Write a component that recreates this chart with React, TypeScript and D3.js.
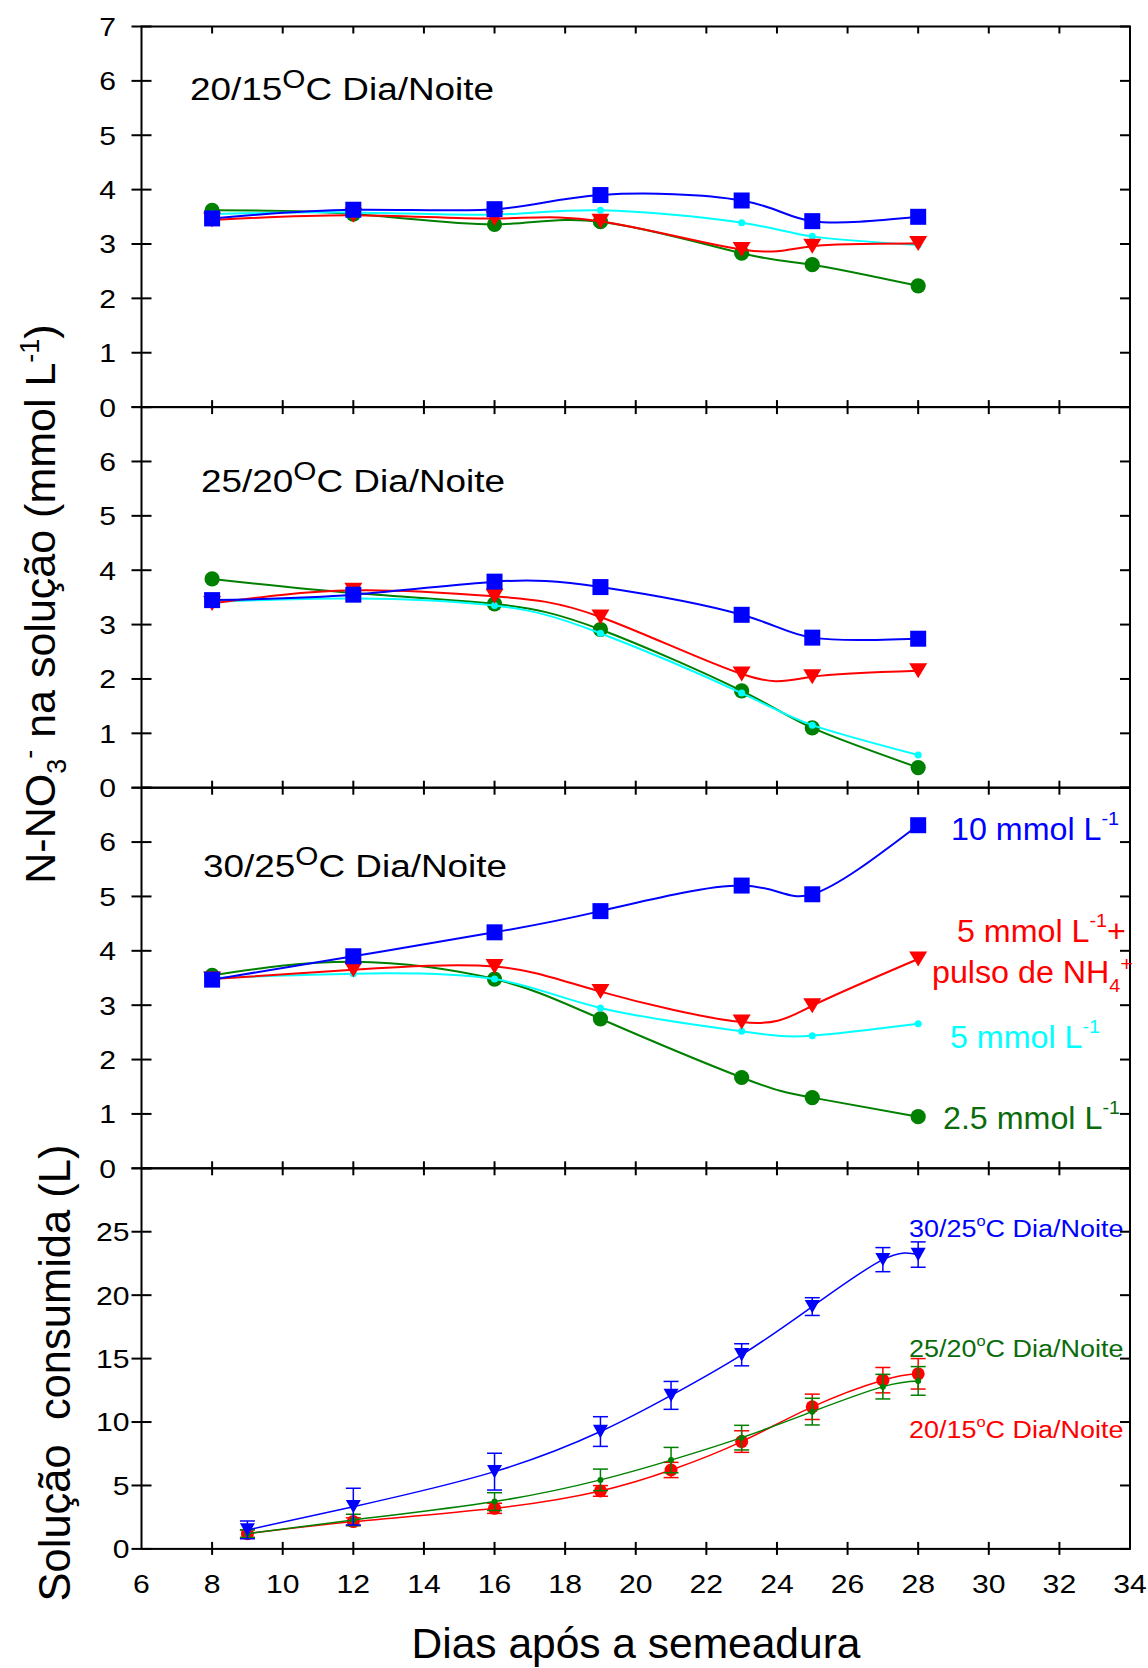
import React, { useEffect, useRef } from "react";
import * as d3 from "d3";

// x values (dias após a semeadura)
const days = [8, 12, 16, 19, 23, 25, 28];
const daysSol = [9, 12, 16, 19, 21, 23, 25, 27, 28];

// N-NO3 (mmol L-1), 20/15 C
const t20_10mmol = [3.47, 3.63, 3.64, 3.9, 3.8, 3.42, 3.5];
const t20_5mmol = [3.55, 3.58, 3.54, 3.62, 3.39, 3.14, 2.98];
const t20_5pulso = [3.44, 3.53, 3.47, 3.42, 2.9, 2.96, 3.01];
const t20_25mmol = [3.62, 3.55, 3.36, 3.41, 2.83, 2.62, 2.23];

// 25/20 C
const t25_10mmol = [3.45, 3.55, 3.79, 3.69, 3.18, 2.76, 2.74];
const t25_5mmol = [3.42, 3.48, 3.35, 2.84, 1.74, 1.15, 0.6];
const t25_5pulso = [3.39, 3.63, 3.52, 3.14, 2.09, 2.04, 2.15];
const t25_25mmol = [3.84, 3.58, 3.38, 2.91, 1.78, 1.1, 0.37];

// 30/25 C
const t30_10mmol = [3.47, 3.9, 4.34, 4.73, 5.2, 5.04, 6.31];
const t30_5mmol = [3.5, 3.58, 3.48, 2.95, 2.52, 2.44, 2.66];
const t30_5pulso = [3.48, 3.65, 3.71, 3.25, 2.69, 2.99, 3.85];
const t30_25mmol = [3.55, 3.8, 3.48, 2.75, 1.67, 1.3, 0.95];

// solução consumida (L) with error
const sol30 = [1.5, 3.33, 6.09, 9.25, 12.1, 15.3, 19.1, 22.8, 23.2];
const sol30Err = [0.7, 1.45, 1.45, 1.17, 1.1, 0.87, 0.7, 0.95, 1.0];
const sol20 = [1.2, 2.15, 3.2, 4.57, 6.22, 8.46, 11.2, 13.3, 13.8];
const sol20Err = [0.3, 0.3, 0.4, 0.42, 0.6, 0.85, 1.0, 1.0, 1.2];
const sol25 = [1.2, 2.28, 3.73, 5.44, 7.0, 8.77, 10.82, 12.79, 13.24];
const sol25Err = [0.3, 0.45, 0.7, 0.85, 1.0, 0.97, 1.05, 0.97, 1.13];

const panelTitles = ["20/15", "25/20", "30/25"];

const FONT = '"Liberation Sans", Arial, sans-serif';
const BLUE = "#0000ff";
const RED = "#ff0000";
const CYAN = "#00ffff";
const GREEN = "#008000";
const GREEN_TXT = "#0b6b0b";
const TICK_FONT = 26;
const TICK_SX = 1.16;

type Part = { t: string; size?: number; dy?: number };

// text with optional horizontal stretch (the original glyphs are a bit wide)
function addText(g, x, y, parts: Part[], size, color, anchor = "start", sx = 1, rotate = 0) {
  const txt = g
    .append("text")
    .attr("transform", `translate(${x},${y}) rotate(${rotate}) scale(${sx},1)`)
    .attr("font-family", FONT)
    .attr("font-size", size)
    .attr("fill", color)
    .attr("text-anchor", anchor)
    .style("white-space", "pre");
  parts.forEach((p) => {
    const ts = txt.append("tspan").attr("font-size", p.size ?? size).text(p.t);
    if (p.dy) ts.attr("dy", p.dy);
  });
  return txt;
}

const App = () => {
  const ref = useRef<SVGSVGElement>(null);

  useEffect(() => {
    document.body.style.margin = "0";
    const svg = d3.select(ref.current);
    svg.selectAll("*").remove();

    const x0 = 141.5;
    const x1 = 1130;
    const top0 = 26.5;
    const panelH = 380.6;

    const x = d3.scaleLinear().domain([6, 34]).range([x0, x1]);
    const xTicks = d3.range(8, 34, 2);

    const nitrate = [
      [t20_25mmol, t20_5mmol, t20_5pulso, t20_10mmol],
      [t25_25mmol, t25_5mmol, t25_5pulso, t25_10mmol],
      [t30_25mmol, t30_5mmol, t30_5pulso, t30_10mmol],
    ];
    const colors = [GREEN, CYAN, RED, BLUE];
    const symbols = ["circle", "dot", "triangle", "square"];

    const drawFrame = (top, bottom, y, yTicks, labelTicks, labelRight, bottomOut) => {
      const g = svg.append("g");
      g.append("rect")
        .attr("x", x0)
        .attr("y", top)
        .attr("width", x1 - x0)
        .attr("height", bottom - top)
        .attr("fill", "none")
        .attr("stroke", "#000")
        .attr("stroke-width", 2);
      yTicks.forEach((t) => {
        g.append("line")
          .attr("x1", x0 - 10)
          .attr("x2", x0 + 10)
          .attr("y1", y(t))
          .attr("y2", y(t))
          .attr("stroke", "#000")
          .attr("stroke-width", 2);
        g.append("line")
          .attr("x1", x1 - 10)
          .attr("x2", x1)
          .attr("y1", y(t))
          .attr("y2", y(t))
          .attr("stroke", "#000")
          .attr("stroke-width", 2);
      });
      labelTicks.forEach((t) => {
        addText(g, labelRight, y(t) + 9.4, [{ t: String(t) }], TICK_FONT, "#000", "end", TICK_SX);
      });
      xTicks.forEach((t) => {
        g.append("line")
          .attr("x1", x(t))
          .attr("x2", x(t))
          .attr("y1", top)
          .attr("y2", top + 7)
          .attr("stroke", "#000")
          .attr("stroke-width", 2);
        g.append("line")
          .attr("x1", x(t))
          .attr("x2", x(t))
          .attr("y1", bottom - 7)
          .attr("y2", bottom + bottomOut)
          .attr("stroke", "#000")
          .attr("stroke-width", 2);
      });
      return g;
    };

    const drawSymbol = (g, kind, cx, cy, color) => {
      if (kind === "square") {
        g.append("rect")
          .attr("x", cx - 8)
          .attr("y", cy - 8)
          .attr("width", 16)
          .attr("height", 16)
          .attr("fill", color);
      } else if (kind === "triangle") {
        g.append("path")
          .attr("d", `M${cx - 9},${cy - 7.5}L${cx + 9},${cy - 7.5}L${cx},${cy + 7.5}Z`)
          .attr("fill", color);
      } else if (kind === "circle") {
        g.append("circle").attr("cx", cx).attr("cy", cy).attr("r", 7.6).attr("fill", color);
      } else {
        g.append("circle").attr("cx", cx).attr("cy", cy).attr("r", 3.5).attr("fill", color);
      }
    };

    // three nitrate panels
    nitrate.forEach((series, i) => {
      const top = top0 + i * panelH;
      const bottom = top + panelH;
      const y = d3.scaleLinear().domain([0, 7]).range([bottom, top]);
      const labels = i === 0 ? d3.range(0, 8) : d3.range(0, 7);
      drawFrame(top, bottom, y, d3.range(0, 8), labels, 116, 0);

      const line = d3
        .line<[number, number]>()
        .x((d) => x(d[0]))
        .y((d) => y(d[1]))
        .curve(d3.curveNatural);

      const g = svg.append("g");
      series.forEach((vals, k) => {
        const pts = days.map((d, j) => [d, vals[j]] as [number, number]);
        g.append("path")
          .attr("d", line(pts))
          .attr("fill", "none")
          .attr("stroke", colors[k])
          .attr("stroke-width", 2);
        pts.forEach((p) => drawSymbol(g, symbols[k], x(p[0]), y(p[1]), colors[k]));
      });

      addText(
        svg,
        [190, 201, 203][i],
        [100, 491.5, 877][i],
        [
          { t: panelTitles[i] },
          { t: "O", size: 25, dy: -12 },
          { t: "C Dia/Noite", size: 31, dy: 12 },
        ],
        31,
        "#000",
        "start",
        1.19
      );
    });

    // legend labels of the 30/25 panel
    addText(svg, 951, 840, [{ t: "10 mmol L" }, { t: "-1", size: 19, dy: -15 }], 31, BLUE, "start", 1.04);
    addText(
      svg,
      957,
      941.5,
      [{ t: "5 mmol L" }, { t: "-1", size: 19, dy: -15 }, { t: "+", size: 31, dy: 15 }],
      31,
      RED,
      "start",
      1.04
    );
    addText(
      svg,
      932,
      983,
      [{ t: "pulso de NH" }, { t: "4", size: 19, dy: 9 }, { t: "+", size: 21, dy: -21 }],
      31,
      RED,
      "start",
      1.04
    );
    addText(svg, 950, 1048, [{ t: "5 mmol L" }, { t: "-1", size: 19, dy: -15 }], 31, CYAN, "start", 1.04);
    addText(svg, 943, 1129, [{ t: "2.5 mmol L" }, { t: "-1", size: 19, dy: -15 }], 31, GREEN_TXT, "start", 1.04);

    // solution consumed panel
    const top4 = top0 + 3 * panelH;
    const bottom4 = top4 + panelH;
    const y4 = d3.scaleLinear().domain([0, 30]).range([bottom4, top4]);
    drawFrame(top4, bottom4, y4, d3.range(0, 31, 5), d3.range(0, 26, 5), 129.5, 6);

    xTicks.concat([6, 34]).forEach((t) => {
      addText(svg, x(t), 1593, [{ t: String(t) }], TICK_FONT, "#000", "middle", TICK_SX);
    });

    const line4 = d3
      .line<[number, number]>()
      .x((d) => x(d[0]))
      .y((d) => y4(d[1]))
      .curve(d3.curveNatural);

    const solSeries = [
      { vals: sol20, err: sol20Err, color: RED, kind: "circle4" },
      { vals: sol25, err: sol25Err, color: GREEN, kind: "dot4" },
      { vals: sol30, err: sol30Err, color: BLUE, kind: "tri4" },
    ];
    const g4 = svg.append("g");
    solSeries.forEach((s) => {
      const pts = daysSol.map((d, j) => [d, s.vals[j]] as [number, number]);
      g4.append("path")
        .attr("d", line4(pts))
        .attr("fill", "none")
        .attr("stroke", s.color)
        .attr("stroke-width", 1.5);
      pts.forEach((p, j) => {
        const cx = x(p[0]);
        const ya = y4(p[1] + s.err[j]);
        const yb = y4(p[1] - s.err[j]);
        g4.append("line")
          .attr("x1", cx)
          .attr("x2", cx)
          .attr("y1", ya)
          .attr("y2", yb)
          .attr("stroke", s.color)
          .attr("stroke-width", 1.5);
        [ya, yb].forEach((yy) =>
          g4
            .append("line")
            .attr("x1", cx - 7.5)
            .attr("x2", cx + 7.5)
            .attr("y1", yy)
            .attr("y2", yy)
            .attr("stroke", s.color)
            .attr("stroke-width", 1.5)
        );
        const cy = y4(p[1]);
        if (s.kind === "circle4") {
          g4.append("circle").attr("cx", cx).attr("cy", cy).attr("r", 6.5).attr("fill", s.color);
        } else if (s.kind === "dot4") {
          g4.append("circle").attr("cx", cx).attr("cy", cy).attr("r", 3).attr("fill", s.color);
        } else {
          g4.append("path")
            .attr("d", `M${cx - 7.5},${cy - 6.7}L${cx + 7.5},${cy - 6.7}L${cx},${cy + 6.7}Z`)
            .attr("fill", s.color);
        }
      });
    });

    const solLabels = [
      { y: 1237, color: BLUE, t: "30/25" },
      { y: 1356.5, color: GREEN_TXT, t: "25/20" },
      { y: 1438, color: RED, t: "20/15" },
    ];
    solLabels.forEach((l) =>
      addText(
        svg,
        909,
        l.y,
        [{ t: l.t }, { t: "o", size: 15, dy: -11 }, { t: "C Dia/Noite", size: 24.5, dy: 11 }],
        24.5,
        l.color,
        "start",
        1.1
      )
    );

    // axis titles
    addText(
      svg,
      55,
      604,
      [
        { t: "N-NO" },
        { t: "3", size: 27, dy: 11 },
        { t: "-", size: 27, dy: -28 },
        { t: " na solução (mmol L", size: 43, dy: 17 },
        { t: "-1", size: 27, dy: -16 },
        { t: ")", size: 43, dy: 16 },
      ],
      43,
      "#000",
      "middle",
      1,
      -90
    );
    addText(svg, 70, 1373, [{ t: "Solução  consumida (L)" }], 43.5, "#000", "middle", 1, -90);
    addText(svg, 636, 1657.5, [{ t: "Dias após a semeadura" }], 42.5, "#000", "middle");
  }, []);

  return (
    <svg
      ref={ref}
      width={1148}
      height={1668}
      style={{ display: "block", background: "#fff" }}
    />
  );
};

export default App;
